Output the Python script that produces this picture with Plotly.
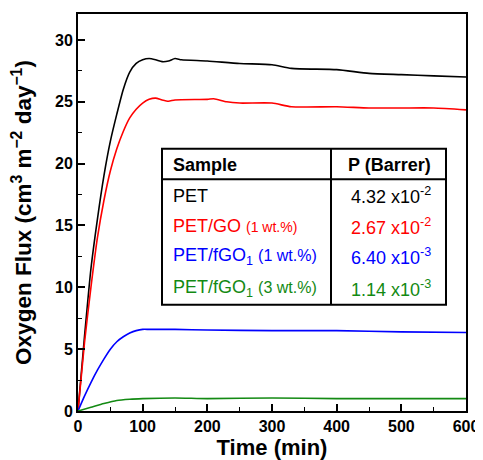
import plotly.graph_objects as go

time_pet = [0, 10, 20, 30, 40, 50, 60, 70, 80, 90, 100, 110, 120, 130, 140, 150, 160, 200, 250, 300, 330, 400, 450, 500, 550, 600]
flux_pet = [0, 6.0, 11.5, 15.5, 19.0, 21.8, 24.0, 26.0, 27.4, 28.1, 28.4, 28.5, 28.4, 28.25, 28.3, 28.5, 28.4, 28.3, 28.1, 28.0, 27.7, 27.6, 27.3, 27.2, 27.1, 27.0]

time_go = [0, 10, 20, 30, 40, 50, 60, 70, 80, 90, 100, 110, 120, 130, 140, 150, 200, 210, 230, 250, 300, 330, 400, 450, 500, 550, 600]
flux_go = [0, 5.5, 10.0, 14.0, 17.0, 19.4, 21.2, 22.6, 23.7, 24.4, 24.9, 25.2, 25.3, 25.15, 25.05, 25.15, 25.2, 25.25, 25.0, 24.9, 24.9, 24.6, 24.6, 24.5, 24.5, 24.5, 24.35]

time_fgo1 = [0, 10, 20, 30, 40, 50, 60, 70, 80, 90, 100, 110, 150, 200, 300, 400, 500, 600]
flux_fgo1 = [0, 1.2, 2.3, 3.3, 4.2, 5.0, 5.6, 6.0, 6.3, 6.5, 6.6, 6.6, 6.6, 6.55, 6.5, 6.5, 6.4, 6.35]

time_fgo3 = [0, 20, 40, 60, 80, 100, 150, 200, 300, 400, 500, 600]
flux_fgo3 = [0, 0.3, 0.6, 0.85, 0.95, 1.0, 1.05, 1.0, 1.05, 1.0, 1.0, 1.0]

samples = ["PET", "PET/GO <span style='font-size:14px'>(1 wt.%)</span>",
           "PET/fGO<sub>1</sub> <span style='font-size:16px'>(1 wt.%)</span>",
           "PET/fGO<sub>1</sub> <span style='font-size:16px'>(3 wt.%)</span>"]
perm = ["4.32 x10<sup>-2</sup>", "2.67 x10<sup>-2</sup>", "6.40 x10<sup>-3</sup>", "1.14 x10<sup>-3</sup>"]
colors = ["#000000", "#ff0000", "#0000ff", "#138a13"]

fig = go.Figure()
series = [(time_pet, flux_pet), (time_go, flux_go), (time_fgo1, flux_fgo1), (time_fgo3, flux_fgo3)]
for (t, f), c in zip(series, colors):
    fig.add_trace(go.Scatter(x=t, y=f, mode="lines", line=dict(color=c, width=1.6, shape="spline", smoothing=0.6),
                             showlegend=False, hoverinfo="skip"))

font_family = "Liberation Sans, Arial, sans-serif"
axis_common = dict(showline=True, linecolor="black", linewidth=2, mirror=True, ticks="inside",
                   tickcolor="black", tickwidth=1.5, ticklen=7, showgrid=False, zeroline=False,
                   automargin=False,
                   tickfont=dict(family=font_family, size=16, color="black", weight="bold"))
fig.update_xaxes(range=[0, 600], dtick=100, tick0=0,
                 minor=dict(ticks="inside", dtick=50, ticklen=4, tickcolor="black", tickwidth=1.2),
                 title=dict(text="Time (min)", font=dict(family=font_family, size=22, color="black", weight="bold"), standoff=4),
                 **axis_common)
fig.update_yaxes(range=[0, 32.1], dtick=5, tick0=0,
                 minor=dict(ticks="inside", dtick=2.5, ticklen=4, tickcolor="black", tickwidth=1.2),
                 title=dict(text="Oxygen Flux (cm<sup>3</sup> m<sup>−2</sup> day<sup>−1</sup>)",
                            font=dict(family=font_family, size=22.5, color="black", weight="bold"), standoff=18),
                 **axis_common)

def px_x(px):
    return (px - 78) / 388
def px_y(py):
    return (403 - py) / 389

L, R, T, B = px_x(162), px_x(446), px_y(146), px_y(299)
HB, DV = px_y(176), px_x(331)
shapes = [
    dict(type="rect", xref="paper", yref="paper", x0=L, x1=R, y0=B, y1=T, line=dict(color="black", width=2), fillcolor="white", layer="above"),
    dict(type="line", xref="paper", yref="paper", x0=L, x1=R, y0=HB, y1=HB, line=dict(color="black", width=2)),
    dict(type="line", xref="paper", yref="paper", x0=DV, x1=DV, y0=B, y1=T, line=dict(color="black", width=2)),
]
fig.update_layout(shapes=shapes)

ann = []
ann.append(dict(text="<b>Sample</b>", x=px_x(171), y=px_y(162), xanchor="left", yanchor="middle"))
ann.append(dict(text="<b>P (Barrer)</b>", x=px_x(433), y=px_y(162), xanchor="right", yanchor="middle"))
rows_y = [192, 222, 252, 283]
for s, p, c, ry in zip(samples, perm, colors, rows_y):
    ann.append(dict(text=s, x=px_x(171), y=px_y(ry), xanchor="left", yanchor="middle", font=dict(color=c)))
    ann.append(dict(text=p, x=px_x(433), y=px_y(ry), xanchor="right", yanchor="middle", font=dict(color=c)))
for a in ann:
    f = dict(family=font_family, size=18, color="black")
    f.update(a.get("font", {}))
    a["font"] = f
    a.update(xref="paper", yref="paper", showarrow=False)
    fig.add_annotation(**a)

# page has an 8px body margin, so the figure is shrunk by 8px and margins shifted
fig.update_layout(width=475, height=452, margin=dict(l=70, r=17, t=6, b=49),
                  plot_bgcolor="white", paper_bgcolor="white")
fig.write_html("out.html")
